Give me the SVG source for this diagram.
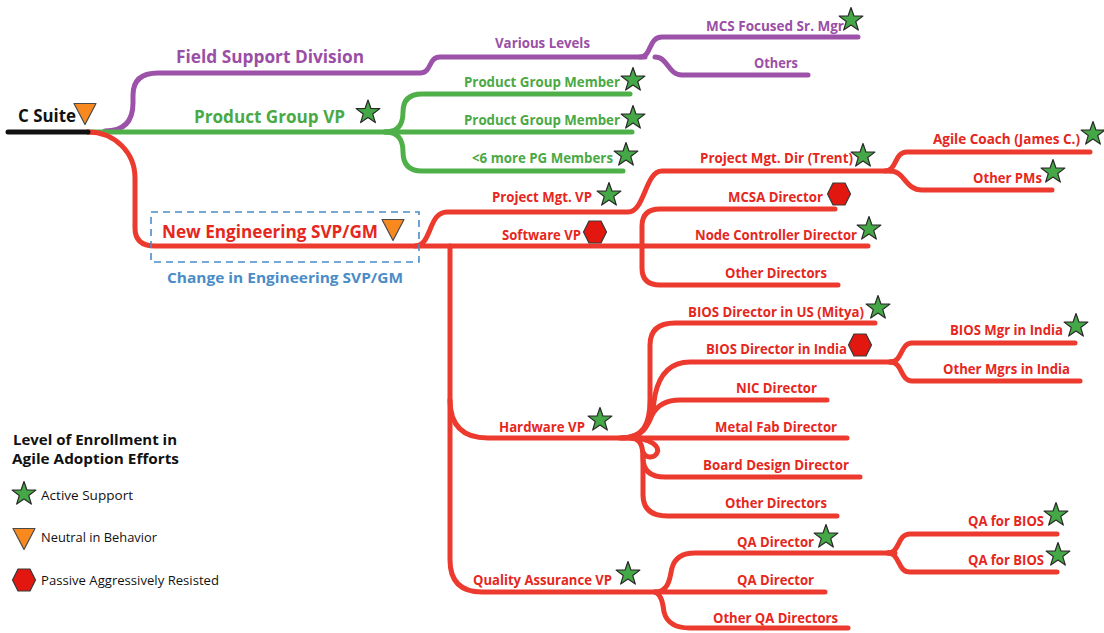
<svg xmlns="http://www.w3.org/2000/svg" xmlns:xlink="http://www.w3.org/1999/xlink" width="1104" height="633" viewBox="0 0 1104 633">
  <style>
    text { font-family: "Open Sans", Lato, "Liberation Sans", sans-serif; }
    .ln { fill: none; stroke-width: 5; stroke-linecap: round; stroke-linejoin: round; }
    .red { stroke: #ec3b2e; }
    .grn { stroke: #4fb04a; }
    .pur { stroke: #9b52a8; }
    .blk { stroke: #111; }
    .t  { font-weight: 700; font-size: 14px; }
    .th { font-weight: 700; font-size: 17px; }
    .tr { fill: #e5271d; }
    .tg { fill: #4aa945; }
    .tp { fill: #9a4ea6; }
    .tb { fill: #4a8cc8; }
    .tk { fill: #111; }
    .leg { font-size: 13.5px; fill: #111; }
    .legh { font-weight: 700; font-size: 15px; fill: #111; }
  </style>
  <defs>
    <polygon id="star" points="0,-12.5 2.94,-4.05 11.89,-3.86 4.76,1.55 7.35,10.11 0,5 -7.35,10.11 -4.76,1.55 -11.89,-3.86 -2.94,-4.05" fill="#45a846" stroke="#2a2a2a" stroke-width="1.2" stroke-linejoin="round"/>
    <polygon id="tri" points="-11,-10.5 11,-10.5 0,10.5" fill="#f7891f" stroke="#4a4a4a" stroke-width="1.2" stroke-linejoin="round"/>
    <polygon id="hex" points="-11.5,0 -6,-11 6,-11 11.5,0 6,11 -6,11" fill="#e2170f" stroke="#3a3a3a" stroke-width="1.2" stroke-linejoin="round"/>
  </defs>

  <!-- connectors -->
  <g id="connectors">
    <!-- purple: field support -->
    <path class="ln pur" d="M105,131 Q133,131 133,103 V95 Q133,73 158,73 H420 C432,73 428,57 440,57 H645"/>
    <path class="ln pur" d="M640,57 C652,57 648,37 662,37 H858"/>
    <path class="ln pur" d="M655,57 C668,57 668,75 682,75 H808"/>
    <!-- green: product group -->
    <path class="ln grn" d="M88,132 H632"/>
    <path class="ln grn" d="M385,132 C400,132 403,122 403,112 Q403,94 422,94 H630"/>
    <path class="ln grn" d="M385,132 C400,132 403,142 403,152 Q403,171 422,171 H623"/>
    <!-- red: engineering -->
    <path class="ln red" d="M88,132 C114,132 135,152 135,178 V228 Q135,246 155,246 H868"/>
    <path class="ln red" d="M415,246 C432,246 428,212 447,212 H628 C645,212 645,171 662,171 H890"/>
    <path class="ln red" d="M885,171 C897,171 894,152 907,152 H1090"/>
    <path class="ln red" d="M890,171 C905,171 905,190 922,190 H1052"/>
    <path class="ln red" d="M642,246 V226 Q642,209 660,209 H835"/>
    <path class="ln red" d="M642,246 V268 Q642,285 660,285 H838"/>
    <!-- trunk to hardware and QA -->
    <path class="ln red" d="M450,246 V560 Q450,592 482,592 H825"/>
    <path class="ln red" d="M450,400 Q450,438 488,438 H847"/>
    <!-- hardware branches -->
    <path class="ln red" d="M620,438 C643,438 650,425 650,400 V345 Q650,323 675,323 H875"/>
    <path class="ln red" d="M622,438 C645,438 652,422 655,395 Q662,362 690,362 H895"/>
    <path class="ln red" d="M890,362 C903,362 900,343 912,343 H1075"/>
    <path class="ln red" d="M890,362 C903,362 900,381 912,381 H1080"/>
    <path class="ln red" d="M625,438 C642,438 648,425 652,415 Q660,400 680,400 H827"/>
    <path class="ln red" d="M630,438 C652,438 660,447 657,453 C654,459 645,458 643,452"/>
    <path class="ln red" d="M630,438 C640,438 643,445 643,458 Q643,477 665,477 H860"/>
    <path class="ln red" d="M643,455 V495 Q643,516 668,516 H837"/>
    <!-- QA branches -->
    <path class="ln red" d="M655,592 C670,592 670,575 672,568 Q676,553 695,553 H895"/>
    <path class="ln red" d="M888,553 C900,553 897,534 910,534 H1057"/>
    <path class="ln red" d="M888,553 C900,553 897,572 910,572 H1057"/>
    <path class="ln red" d="M655,592 C662,595 663,605 664,612 Q668,628 690,628 H848"/>
    <!-- root -->
    <path class="ln blk" d="M8,132 H88"/>
    <!-- change marker around the new SVP -->
    <rect x="151" y="212" width="268" height="50" fill="none" stroke="#4a8cc8" stroke-width="1.6" stroke-dasharray="7,5"/>
  </g>

  <!-- root -->
  <g id="c-suite">
    <text class="th tk" x="18" y="122" textLength="58" lengthAdjust="spacingAndGlyphs">C Suite</text>
    <use xlink:href="#tri" x="85" y="114"/>
  </g>

  <!-- field support -->
  <g id="field-support">
    <text class="th tp" x="176" y="63" textLength="188" lengthAdjust="spacingAndGlyphs">Field Support Division</text>
  </g>
  <g id="various-levels">
    <text class="t tp" x="495" y="48" textLength="95" lengthAdjust="spacingAndGlyphs">Various Levels</text>
  </g>
  <g id="mcs-focused">
    <text class="t tp" x="706" y="31" textLength="138" lengthAdjust="spacingAndGlyphs">MCS Focused Sr. Mgr</text>
    <use xlink:href="#star" x="851" y="20"/>
  </g>
  <g id="others">
    <text class="t tp" x="754" y="68" textLength="44" lengthAdjust="spacingAndGlyphs">Others</text>
  </g>

  <!-- product group -->
  <g id="product-group-vp">
    <text class="th tg" x="194" y="123" textLength="151" lengthAdjust="spacingAndGlyphs">Product Group VP</text>
    <use xlink:href="#star" x="368" y="112.5"/>
  </g>
  <g id="pg-member-1">
    <text class="t tg" x="464" y="87" textLength="156" lengthAdjust="spacingAndGlyphs">Product Group Member</text>
    <use xlink:href="#star" x="633" y="80"/>
  </g>
  <g id="pg-member-2">
    <text class="t tg" x="464" y="125" textLength="156" lengthAdjust="spacingAndGlyphs">Product Group Member</text>
    <use xlink:href="#star" x="633" y="118"/>
  </g>
  <g id="pg-more">
    <text class="t tg" x="472" y="163" textLength="141" lengthAdjust="spacingAndGlyphs">&lt;6 more PG Members</text>
    <use xlink:href="#star" x="626" y="155"/>
  </g>

  <!-- engineering -->
  <g id="new-engineering">
    <text class="th tr" x="162" y="238" textLength="216" lengthAdjust="spacingAndGlyphs">New Engineering SVP/GM</text>
    <use xlink:href="#tri" x="393" y="230"/>
    <text class="t tb" x="167" y="283" textLength="236" lengthAdjust="spacingAndGlyphs">Change in Engineering SVP/GM</text>
  </g>
  <g id="project-mgt-vp">
    <text class="t tr" x="492" y="202" textLength="100" lengthAdjust="spacingAndGlyphs">Project Mgt. VP</text>
    <use xlink:href="#star" x="609" y="195"/>
  </g>
  <g id="project-mgt-dir">
    <text class="t tr" x="700" y="163" textLength="153" lengthAdjust="spacingAndGlyphs">Project Mgt. Dir (Trent)</text>
    <use xlink:href="#star" x="863" y="156"/>
  </g>
  <g id="agile-coach">
    <text class="t tr" x="933" y="144" textLength="147" lengthAdjust="spacingAndGlyphs">Agile Coach (James C.)</text>
    <use xlink:href="#star" x="1093" y="134"/>
  </g>
  <g id="other-pms">
    <text class="t tr" x="973" y="183" textLength="69" lengthAdjust="spacingAndGlyphs">Other PMs</text>
    <use xlink:href="#star" x="1053" y="172"/>
  </g>
  <g id="software-vp">
    <text class="t tr" x="502" y="240" textLength="79" lengthAdjust="spacingAndGlyphs">Software VP</text>
    <use xlink:href="#hex" x="595" y="232"/>
  </g>
  <g id="mcsa-director">
    <text class="t tr" x="728" y="202" textLength="95" lengthAdjust="spacingAndGlyphs">MCSA Director</text>
    <use xlink:href="#hex" x="839" y="194"/>
  </g>
  <g id="node-controller">
    <text class="t tr" x="695" y="240" textLength="162" lengthAdjust="spacingAndGlyphs">Node Controller Director</text>
    <use xlink:href="#star" x="869" y="229"/>
  </g>
  <g id="sw-other-directors">
    <text class="t tr" x="725" y="278" textLength="102" lengthAdjust="spacingAndGlyphs">Other Directors</text>
  </g>

  <!-- hardware -->
  <g id="hardware-vp">
    <text class="t tr" x="499" y="432" textLength="86" lengthAdjust="spacingAndGlyphs">Hardware VP</text>
    <use xlink:href="#star" x="600" y="420"/>
  </g>
  <g id="bios-us">
    <text class="t tr" x="688" y="317" textLength="176" lengthAdjust="spacingAndGlyphs">BIOS Director in US (Mitya)</text>
    <use xlink:href="#star" x="878" y="308"/>
  </g>
  <g id="bios-india">
    <text class="t tr" x="706" y="354" textLength="141" lengthAdjust="spacingAndGlyphs">BIOS Director in India</text>
    <use xlink:href="#hex" x="860" y="345"/>
  </g>
  <g id="bios-mgr-india">
    <text class="t tr" x="950" y="335" textLength="113" lengthAdjust="spacingAndGlyphs">BIOS Mgr in India</text>
    <use xlink:href="#star" x="1076" y="326"/>
  </g>
  <g id="other-mgrs-india">
    <text class="t tr" x="943" y="374" textLength="127" lengthAdjust="spacingAndGlyphs">Other Mgrs in India</text>
  </g>
  <g id="nic-director">
    <text class="t tr" x="736" y="393" textLength="81" lengthAdjust="spacingAndGlyphs">NIC Director</text>
  </g>
  <g id="metal-fab">
    <text class="t tr" x="715" y="432" textLength="122" lengthAdjust="spacingAndGlyphs">Metal Fab Director</text>
  </g>
  <g id="board-design">
    <text class="t tr" x="703" y="470" textLength="146" lengthAdjust="spacingAndGlyphs">Board Design Director</text>
  </g>
  <g id="hw-other-directors">
    <text class="t tr" x="725" y="508" textLength="102" lengthAdjust="spacingAndGlyphs">Other Directors</text>
  </g>

  <!-- quality assurance -->
  <g id="qa-vp">
    <text class="t tr" x="473" y="585" textLength="139" lengthAdjust="spacingAndGlyphs">Quality Assurance VP</text>
    <use xlink:href="#star" x="628" y="574"/>
  </g>
  <g id="qa-director-1">
    <text class="t tr" x="737" y="547" textLength="77" lengthAdjust="spacingAndGlyphs">QA Director</text>
    <use xlink:href="#star" x="826" y="537"/>
  </g>
  <g id="qa-bios-1">
    <text class="t tr" x="968" y="526" textLength="76" lengthAdjust="spacingAndGlyphs">QA for BIOS</text>
    <use xlink:href="#star" x="1056" y="515"/>
  </g>
  <g id="qa-bios-2">
    <text class="t tr" x="968" y="565" textLength="76" lengthAdjust="spacingAndGlyphs">QA for BIOS</text>
    <use xlink:href="#star" x="1058" y="555"/>
  </g>
  <g id="qa-director-2">
    <text class="t tr" x="737" y="585" textLength="77" lengthAdjust="spacingAndGlyphs">QA Director</text>
  </g>
  <g id="other-qa-directors">
    <text class="t tr" x="713" y="623" textLength="125" lengthAdjust="spacingAndGlyphs">Other QA Directors</text>
  </g>

  <!-- legend -->
  <g id="legend">
    <text class="legh" x="13" y="445" textLength="164" lengthAdjust="spacingAndGlyphs">Level of Enrollment in</text>
    <text class="legh" x="12" y="464" textLength="167" lengthAdjust="spacingAndGlyphs">Agile Adoption Efforts</text>
    <use xlink:href="#star" x="24" y="494"/>
    <text class="leg" x="41" y="500" textLength="92" lengthAdjust="spacingAndGlyphs">Active Support</text>
    <use xlink:href="#tri" x="24" y="539"/>
    <text class="leg" x="41" y="542" textLength="116" lengthAdjust="spacingAndGlyphs">Neutral in Behavior</text>
    <use xlink:href="#hex" x="24" y="580"/>
    <text class="leg" x="41" y="585" textLength="178" lengthAdjust="spacingAndGlyphs">Passive Aggressively Resisted</text>
  </g>
</svg>
